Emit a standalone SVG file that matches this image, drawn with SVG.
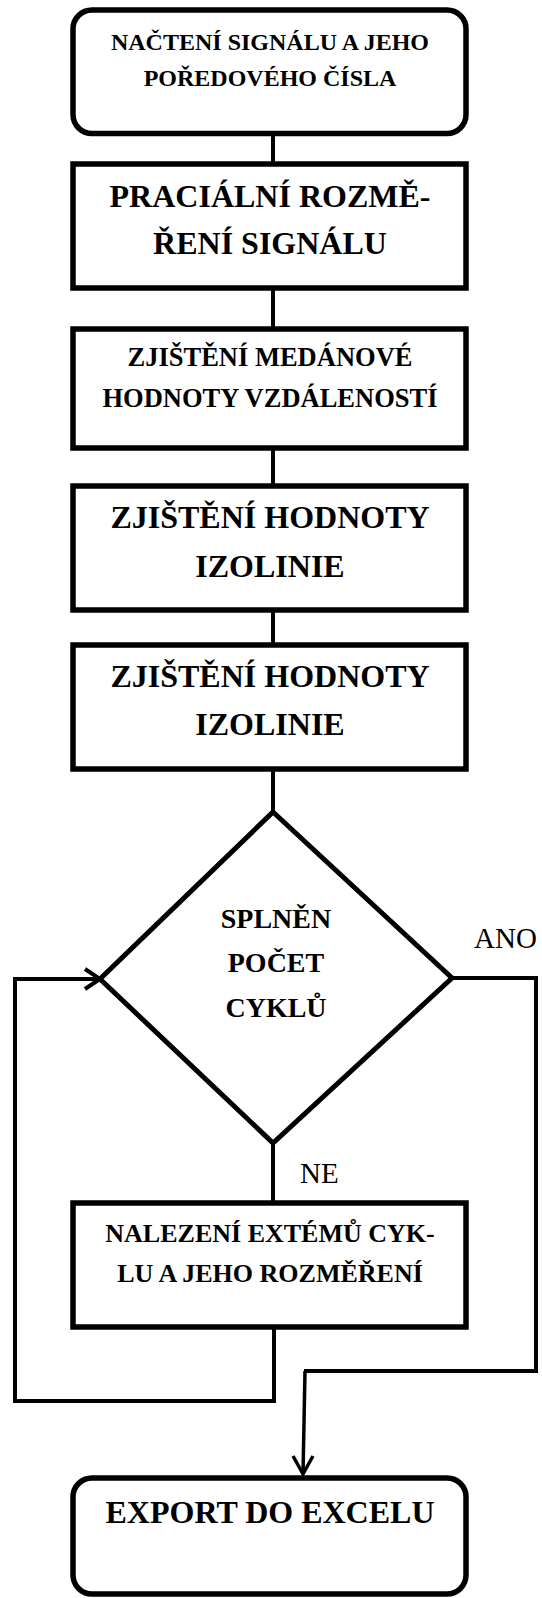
<svg xmlns="http://www.w3.org/2000/svg" width="542" height="1598" viewBox="0 0 542 1598">
  <style>
    .box { fill: #ffffff; stroke: #000000; stroke-width: 5.5; }
    .dia { fill: #ffffff; stroke: #000000; stroke-width: 5; stroke-linejoin: miter; }
    .wire { fill: none; stroke: #000000; stroke-width: 4; stroke-linejoin: miter; }
    .thin { fill: none; stroke: #000000; stroke-width: 3.5; stroke-linejoin: miter; }
    .t { font-family: "Liberation Serif", "Times New Roman", serif; font-weight: bold; fill: #000000; text-anchor: middle; }
    .lbl { font-family: "Liberation Serif", "Times New Roman", serif; font-size: 29px; fill: #000000; }
  </style>
  <rect width="542" height="1598" fill="#ffffff"/>

  <!-- connectors -->
  <g id="connectors">
    <line class="wire" x1="273" y1="133" x2="273" y2="164"/>
    <line class="wire" x1="273" y1="288" x2="273" y2="329"/>
    <line class="wire" x1="273" y1="448" x2="273" y2="486"/>
    <line class="wire" x1="273" y1="610" x2="273" y2="645"/>
    <line class="wire" x1="273" y1="769" x2="273" y2="812"/>
    <line class="wire" x1="273" y1="1143" x2="273" y2="1203"/>
    <!-- loop back from the cycle step into the decision -->
    <polyline class="wire" points="274,1327 274,1401 15,1401 15,979 100,979"/>
    <polyline class="wire" points="85,969 100,979 85,989"/>
    <!-- exit branch to export -->
    <polyline class="wire" points="452,978 536,978 536,1371 304,1371"/>
    <line class="thin" x1="305" y1="1371" x2="303" y2="1474"/>
    <polyline class="thin" points="293,1456 303,1474 313,1456"/>
    <text class="lbl" x="474" y="948">ANO</text>
    <text class="lbl" x="300" y="1183">NE</text>
  </g>

  <g id="n1">
    <rect class="box" x="73" y="10" width="393" height="123.5" rx="19"/>
    <text class="t" x="270" y="49.5" font-size="24">NAČTENÍ SIGNÁLU A JEHO</text>
    <text class="t" x="270" y="86" font-size="24">POŘEDOVÉHO ČÍSLA</text>
  </g>

  <g id="n2">
    <rect class="box" x="73" y="164" width="393" height="124"/>
    <text class="t" x="270" y="207" font-size="32">PRACIÁLNÍ ROZMĚ-</text>
    <text class="t" x="270" y="254" font-size="32">ŘENÍ SIGNÁLU</text>
  </g>

  <g id="n3">
    <rect class="box" x="73" y="329" width="393" height="119"/>
    <text class="t" x="270" y="366" font-size="26.5">ZJIŠTĚNÍ MEDÁNOVÉ</text>
    <text class="t" x="270" y="407" font-size="26.5">HODNOTY VZDÁLENOSTÍ</text>
  </g>

  <g id="n4">
    <rect class="box" x="73" y="486" width="393" height="124"/>
    <text class="t" x="270" y="528" font-size="32">ZJIŠTĚNÍ HODNOTY</text>
    <text class="t" x="270" y="577" font-size="32">IZOLINIE</text>
  </g>

  <g id="n5">
    <rect class="box" x="73" y="645" width="393" height="124"/>
    <text class="t" x="270" y="687" font-size="32">ZJIŠTĚNÍ HODNOTY</text>
    <text class="t" x="270" y="735" font-size="32">IZOLINIE</text>
  </g>

  <g id="decision">
    <polygon class="dia" points="273,812 452,978 273,1143 100,979"/>
    <text class="t" x="276" y="928" font-size="28">SPLNĚN</text>
    <text class="t" x="276" y="972" font-size="28">POČET</text>
    <text class="t" x="276" y="1017" font-size="28">CYKLŮ</text>
  </g>

  <g id="n6">
    <rect class="box" x="73" y="1203" width="393" height="124"/>
    <text class="t" x="270" y="1242" font-size="26">NALEZENÍ EXTÉMŮ CYK-</text>
    <text class="t" x="270" y="1282" font-size="26">LU A JEHO ROZMĚŘENÍ</text>
  </g>

  <g id="n7">
    <rect class="box" x="73" y="1478" width="393" height="116" rx="19"/>
    <text class="t" x="270" y="1523" font-size="32">EXPORT DO EXCELU</text>
  </g>
</svg>
